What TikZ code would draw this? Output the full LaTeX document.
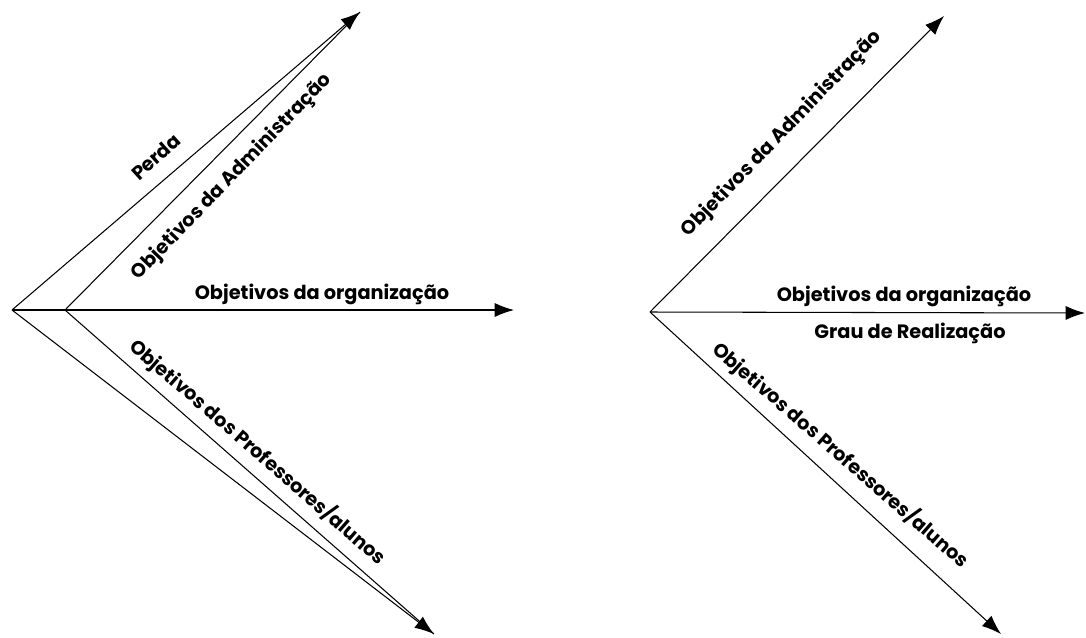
\documentclass[tikz,border=0pt]{standalone}
\usepackage{fontspec}
\setmainfont{Poppins}
\usetikzlibrary{arrows.meta}

\begin{document}
\begin{tikzpicture}[x=0.02cm, y=-0.02cm, line width=0.6pt,
    vec/.style={-{Latex[length=11pt,width=8pt]}},
    lbl/.style={font=\fontsize{11}{13}\selectfont\bfseries, inner sep=1pt}]
    \useasboundingbox (0,0) rectangle (1086,637);

    % left diagram: origins and tips
    \coordinate (A) at (12,310);
    \coordinate (B) at (65,310);
    \coordinate (admL) at (360,12);
    \coordinate (orgL) at (514,310);
    \coordinate (profL) at (434,634);

    \draw[vec] (A) -- (admL);
    \draw (B) -- (admL);
    \draw[vec] (A) -- (orgL);
    \draw[vec] (A) -- (profL);
    \draw (B) -- (profL);

    \node[lbl, rotate=42] (perda) at (156,157) {Perda};
    \node[lbl, rotate=46] (admLtxt) at (232,177) {Objetivos da Administração};
    \node[lbl] (orgLtxt) at (322,294) {Objetivos da organização};
    \node[lbl, rotate=-41] (profLtxt) at (258,452) {Objetivos dos Professores/alunos};

    % right diagram
    \coordinate (C) at (650,312);
    \coordinate (admR) at (944,16);
    \coordinate (orgR) at (1085,313);
    \coordinate (profR) at (1001,634);

    \draw[vec] (C) -- (admR);
    \draw[vec] (C) -- (orgR);
    \draw[vec] (C) -- (profR);

    \node[lbl, rotate=46] (admRtxt) at (782,134) {Objetivos da Administração};
    \node[lbl] (orgRtxt) at (904,296) {Objetivos da organização};
    \node[lbl] (grau) at (910,333) {Grau de Realização};
    \node[lbl, rotate=-41] (profRtxt) at (841,455) {Objetivos dos Professores/alunos};
\end{tikzpicture}
\end{document}
